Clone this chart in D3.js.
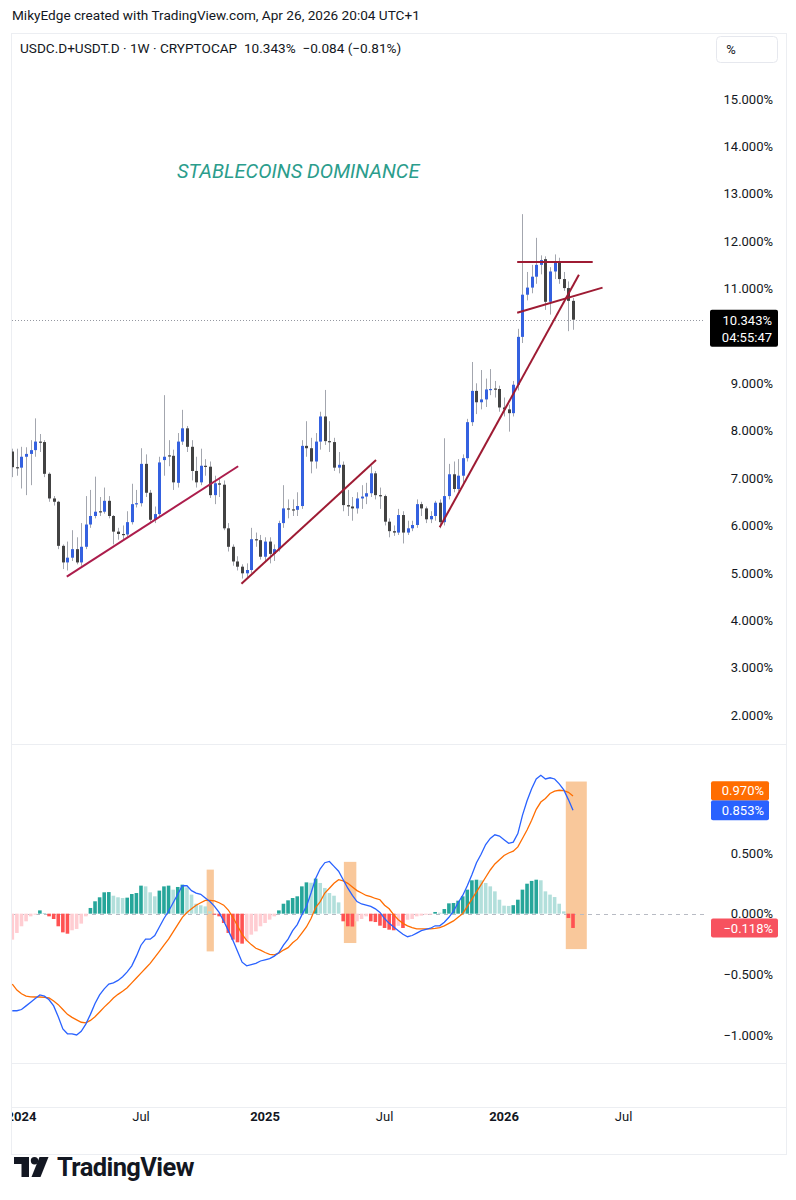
<!DOCTYPE html>
<html><head><meta charset="utf-8">
<script src="https://cdn.jsdelivr.net/npm/d3@7"></script>
<style>
body{margin:0;background:#fff;}
svg{display:block;font-family:Roboto,"Noto Sans",sans-serif;}
</style></head><body>
<svg id="chart" width="796" height="1200"></svg>
<script>
// ---------- DATA (weekly bars, first bar = week of 2023-12-18) ----------
const weekStart = "2023-12-18";
const opens = [7.56,7.23,7.22,7.45,7.51,7.59,7.77,7.76,7.09,6.57,6.50,5.57,5.22,5.32,5.50,5.22,5.55,6.02,6.20,6.30,
6.29,6.52,6.20,5.87,5.82,5.81,6.07,6.45,6.47,7.30,6.69,6.12,6.24,7.38,7.48,7.47,6.90,7.77,8.05,7.66,
7.15,6.91,7.26,7.24,6.64,6.89,6.86,5.94,5.55,5.24,5.13,4.99,5.06,5.71,5.69,5.34,5.66,5.40,5.50,6.05,
6.36,6.34,6.33,6.41,7.68,7.63,7.35,7.77,8.30,7.78,7.76,7.22,7.28,6.43,6.40,6.36,6.57,6.61,6.68,7.10,
6.64,6.62,6.08,5.88,5.85,6.22,5.85,5.94,6.01,6.45,6.36,6.13,6.20,6.48,6.07,6.62,7.08,6.77,7.05,7.42,
8.18,8.84,8.60,8.66,8.87,8.89,8.88,8.49,8.45,8.37,8.97,9.98,10.87,11.02,11.25,11.50,11.62,10.72,11.36,11.57,
11.20,11.01,10.74];
const highs = [7.62,7.62,7.66,7.65,7.80,8.26,7.93,7.80,7.12,6.62,6.52,5.60,5.66,5.90,5.75,6.05,6.62,6.75,7.03,6.60,
6.80,6.62,6.22,5.95,6.00,6.30,6.88,6.75,7.63,7.50,6.75,6.40,7.45,8.75,7.80,7.60,7.95,8.44,8.10,7.80,
7.45,7.62,7.40,7.35,7.05,7.00,6.95,6.05,5.60,5.35,5.18,5.20,5.95,5.85,5.80,5.75,5.75,5.60,6.10,6.85,
6.55,6.55,6.70,7.80,8.20,7.85,7.95,8.40,8.86,8.20,7.85,7.55,7.35,6.75,6.60,6.70,6.85,6.90,7.25,7.15,
6.80,6.65,6.15,6.00,6.35,6.30,6.10,6.10,6.55,6.50,6.40,6.30,6.52,6.55,7.84,7.30,7.35,7.40,7.50,8.25,
9.45,9.00,9.28,9.10,9.30,9.05,8.95,8.70,8.55,9.05,10.15,12.57,11.35,11.50,12.07,11.70,11.68,11.45,11.72,11.65,
11.35,11.15,10.80];
const lows = [7.02,7.05,6.78,6.64,6.85,7.45,7.55,7.02,6.50,6.42,5.50,5.08,5.05,5.25,5.18,5.15,5.50,5.95,6.15,6.20,
6.25,6.15,5.60,5.70,5.70,5.76,6.02,6.38,6.40,6.60,6.05,6.05,6.20,7.05,7.25,6.75,6.80,7.70,7.55,6.95,
6.80,6.85,7.05,6.58,6.45,6.60,5.90,5.45,5.15,5.05,4.88,4.90,5.00,5.55,5.28,5.25,5.20,5.25,5.45,5.95,
6.15,6.20,6.20,6.35,7.45,7.10,7.20,7.60,7.70,7.55,7.15,7.10,6.30,6.20,6.10,6.25,6.35,6.45,6.60,6.55,
6.35,6.00,5.75,5.78,5.80,5.62,5.80,5.88,5.95,6.20,6.05,6.05,6.10,5.94,6.00,6.55,6.70,6.72,6.90,7.35,
8.10,8.35,8.45,8.50,8.75,8.70,8.40,8.30,7.98,8.30,8.85,9.85,10.75,10.90,11.10,11.30,10.55,10.45,11.20,11.10,
10.95,10.10,10.13];
const closes = [7.23,7.22,7.45,7.51,7.59,7.77,7.76,7.09,6.57,6.50,5.57,5.22,5.32,5.50,5.22,5.55,6.02,6.20,6.29,6.29,
6.52,6.20,5.87,5.82,5.81,6.07,6.45,6.47,7.30,6.69,6.12,6.24,7.33,7.45,7.46,6.91,7.77,8.05,7.66,7.15,
6.91,7.26,7.24,6.64,6.89,6.86,5.94,5.55,5.24,5.13,4.99,5.06,5.71,5.69,5.34,5.66,5.40,5.50,6.05,6.36,
6.34,6.33,6.41,7.68,7.63,7.35,7.77,8.30,7.78,7.76,7.22,7.28,6.43,6.40,6.36,6.57,6.61,6.68,7.10,6.64,
6.62,6.08,5.88,5.85,6.22,5.85,5.94,6.01,6.45,6.36,6.13,6.20,6.48,6.07,6.62,7.08,6.77,7.05,7.42,8.18,
8.84,8.60,8.66,8.87,8.88,8.87,8.49,8.45,8.37,8.97,9.98,10.87,11.02,11.25,11.50,11.60,10.72,11.36,11.57,11.20,
11.01,10.74,10.343];
const macdLine = [-0.80,-0.80,-0.79,-0.76,-0.73,-0.70,-0.67,-0.68,-0.71,-0.76,-0.85,-0.95,-0.99,-0.99,-1.00,-0.97,-0.91,-0.83,-0.74,-0.67,
-0.62,-0.58,-0.57,-0.55,-0.52,-0.48,-0.43,-0.35,-0.26,-0.21,-0.21,-0.18,-0.11,-0.04,0.02,0.09,0.16,0.23,0.23,0.19,
0.17,0.16,0.13,0.10,0.06,0.01,-0.06,-0.14,-0.22,-0.31,-0.40,-0.43,-0.42,-0.41,-0.39,-0.38,-0.37,-0.35,-0.32,-0.26,
-0.21,-0.14,-0.09,-0.01,0.06,0.17,0.29,0.37,0.42,0.43,0.39,0.35,0.28,0.21,0.15,0.10,0.08,0.07,0.06,0.04,
0.01,-0.04,-0.08,-0.11,-0.14,-0.17,-0.19,-0.18,-0.16,-0.14,-0.13,-0.12,-0.10,-0.10,-0.07,-0.03,0.02,0.09,0.15,0.23,
0.32,0.42,0.49,0.57,0.62,0.65,0.64,0.61,0.58,0.59,0.66,0.81,0.93,1.03,1.11,1.14,1.11,1.12,1.11,1.07,
1.02,0.94,0.853];
const signalLine = [-0.58,-0.63,-0.66,-0.68,-0.685,-0.687,-0.687,-0.69,-0.695,-0.72,-0.75,-0.79,-0.83,-0.855,-0.875,-0.895,-0.90,-0.88,-0.85,-0.81,
-0.77,-0.735,-0.695,-0.665,-0.64,-0.61,-0.57,-0.53,-0.49,-0.45,-0.41,-0.36,-0.31,-0.26,-0.21,-0.15,-0.09,-0.03,0.01,0.04,
0.07,0.09,0.11,0.11,0.105,0.09,0.07,0.03,-0.03,-0.10,-0.17,-0.22,-0.255,-0.285,-0.30,-0.32,-0.335,-0.34,-0.325,-0.30,
-0.28,-0.24,-0.21,-0.16,-0.11,-0.04,0.05,0.10,0.17,0.21,0.25,0.28,0.27,0.25,0.22,0.19,0.17,0.15,0.14,0.125,
0.115,0.07,0.04,-0.01,-0.05,-0.08,-0.10,-0.115,-0.125,-0.126,-0.126,-0.125,-0.122,-0.115,-0.10,-0.08,-0.06,-0.03,0.00,0.06,
0.12,0.18,0.24,0.30,0.36,0.41,0.445,0.48,0.50,0.515,0.55,0.62,0.69,0.77,0.86,0.92,0.95,0.99,1.01,1.017,
1.014,1.00,0.970];
const histogram = [-0.214,-0.159,-0.104,-0.063,-0.022,-0.008,0.027,0.005,-0.022,-0.044,-0.104,-0.154,-0.165,-0.137,-0.126,-0.082,-0.022,0.047,0.102,0.135,
0.176,0.178,0.148,0.135,0.129,0.132,0.162,0.170,0.231,0.225,0.176,0.143,0.190,0.225,0.231,0.198,0.220,0.239,0.217,0.157,
0.082,0.069,0.060,0.020,-0.008,-0.022,-0.077,-0.159,-0.214,-0.236,-0.247,-0.228,-0.173,-0.146,-0.104,-0.077,-0.049,-0.022,0.027,0.082,
0.110,0.129,0.143,0.225,0.258,0.255,0.289,0.253,0.212,0.170,0.148,0.093,-0.063,-0.104,-0.106,-0.063,-0.044,-0.022,-0.063,-0.069,
-0.099,-0.118,-0.132,-0.137,-0.100,-0.118,-0.050,-0.044,-0.022,-0.016,-0.008,-0.005,0.014,0.008,0.038,0.085,0.088,0.107,0.143,0.198,
0.275,0.280,0.275,0.253,0.225,0.184,0.115,0.066,0.064,0.070,0.115,0.198,0.247,0.270,0.280,0.275,0.184,0.157,0.137,0.082,
0.019,-0.036,-0.118];
const priceTicks = [2,3,4,5,6,7,8,9,10,11,12,13,14,15];
const hiddenPriceTicks = [10]; // covered by last-price label
const macdTicks = [0.5, 0, -0.5, -1];
const timeTicks = [["2024-01-01","2024",true],["2024-07-01","Jul",false],["2025-01-06","2025",true],
                   ["2025-07-07","Jul",false],["2026-01-05","2026",true],["2026-07-06","Jul",false]];
const trendLines = [
  [["2024-03-10",4.92],["2024-11-26",7.25]],
  [["2024-12-01",4.77],["2025-06-24",7.38]],
  [["2025-09-29",5.96],["2026-04-29",11.29]],
  [["2026-01-25",11.56],["2026-05-20",11.56]],
  [["2026-01-25",10.49],["2026-06-04",11.02]]
];
const highlightBoxes = [
  [["2024-10-09",0.363],["2024-10-20",-0.311]],
  [["2025-05-06",0.427],["2025-05-25",-0.242]],
  [["2026-04-09",1.089],["2026-05-11",-0.292]]
];
const lastPrice = 10.343, lastMacd = 0.853, lastSignal = 0.970, lastHist = -0.118;

// ---------- SETUP ----------
const svg = d3.select("#chart");
const parse = d3.utcParse("%Y-%m-%d");
const t0 = parse(weekStart);
const dates = closes.map((_, i) => d3.utcWeek.offset(t0, i));
const x = d3.scaleUtc().domain([dates[0], dates[dates.length - 1]]).range([12.3, 573]);
const yP = d3.scaleLinear().domain([2, 15]).range([715, 99]);
const yM = d3.scaleLinear().domain([-1, 0.5]).range([1035, 853]);
const txt = "#131722";

// header
svg.append("text").attr("x", 12).attr("y", 20).attr("font-size", 13.6).attr("fill", txt)
  .text("MikyEdge created with TradingView.com, Apr 26, 2026 20:04 UTC+1");

// frame
const frame = svg.append("g").attr("fill", "none").attr("stroke", "#eceef2").attr("stroke-width", 1);
frame.append("rect").attr("x", 11.5).attr("y", 33.5).attr("width", 775).attr("height", 1121);
[744.5, 1063.5, 1107.5].forEach(yy => frame.append("line").attr("x1", 11.5).attr("x2", 786.5).attr("y1", yy).attr("y2", yy));

// legend
svg.append("text").attr("x", 20).attr("y", 53).attr("font-size", 13.6).attr("fill", txt)
  .attr("xml:space", "preserve")
  .text("USDC.D+USDT.D · 1W · CRYPTOCAP  10.343%  −0.084 (−0.81%)");
svg.append("rect").attr("x", 716.5).attr("y", 36.5).attr("width", 61).attr("height", 26).attr("rx", 4)
  .attr("fill", "#fff").attr("stroke", "#e6e8ee");
svg.append("text").attr("x", 731).attr("y", 54).attr("font-size", 13).attr("fill", txt).attr("text-anchor", "middle").text("%");

// annotation text
svg.append("text").attr("x", 177).attr("y", 178).attr("font-size", 20).attr("font-style", "italic")
  .attr("fill", "#2b9d8c").text("STABLECOINS DOMINANCE");

// clip
svg.append("clipPath").attr("id", "cp").append("rect").attr("x", 12).attr("y", 34).attr("width", 693).attr("height", 1029);
const plot = svg.append("g").attr("clip-path", "url(#cp)");

// last price dotted line
plot.append("line").attr("x1", 12).attr("x2", 710).attr("y1", Math.round(yP(lastPrice)) + 0.5).attr("y2", Math.round(yP(lastPrice)) + 0.5)
  .attr("stroke", "#9598a1").attr("stroke-width", 1).attr("stroke-dasharray", "1,2");

// candles
const bull = "#3461e0", bear = "#424242", wickC = "#a3a6ae";
const cg = plot.append("g");
closes.forEach((c, i) => {
  const cx = Math.round(x(dates[i]));
  cg.append("line").attr("x1", cx + 0.5).attr("x2", cx + 0.5).attr("y1", yP(highs[i])).attr("y2", yP(lows[i]))
    .attr("stroke", wickC).attr("stroke-width", 1);
});
closes.forEach((c, i) => {
  const cx = Math.round(x(dates[i]));
  const o = opens[i];
  const top = yP(Math.max(o, c)), bot = yP(Math.min(o, c));
  cg.append("rect").attr("x", cx - 1).attr("width", 3).attr("y", top).attr("height", Math.max(1.2, bot - top))
    .attr("fill", c >= o ? bull : bear);
});

// trend lines
const tl = d3.line().x(d => x(parse(d[0]))).y(d => yP(d[1]));
trendLines.forEach((seg, k) => {
  svg.append("path").attr("d", tl(seg)).attr("fill", "none")
    .attr("stroke", k === 0 ? "#ac1d4c" : "#9e1b33").attr("stroke-width", 2);
});

// MACD pane
const mg = plot.append("g");
highlightBoxes.forEach(b => {
  const x0 = x(parse(b[0][0])), x1 = x(parse(b[1][0]));
  mg.append("rect").attr("x", x0).attr("width", x1 - x0).attr("y", yM(b[0][1])).attr("height", yM(b[1][1]) - yM(b[0][1]))
    .attr("fill", "#f9c89b");
});
mg.append("line").attr("x1", 12).attr("x2", 705).attr("y1", Math.round(yM(0)) + 0.5).attr("y2", Math.round(yM(0)) + 0.5)
  .attr("stroke", "#b8bbc4").attr("stroke-dasharray", "4,4");
histogram.forEach((v, i) => {
  const prev = i > 0 ? histogram[i - 1] : (v < 0 ? v - 1 : v + 1);
  let col;
  if (v >= 0) col = v > prev ? "#26a69a" : "#b2dfdb";
  else col = v < prev ? "#ff5252" : "#ffcdd2";
  const cx = x(dates[i]);
  const y0 = yM(0), y1 = yM(v);
  mg.append("rect").attr("x", cx - 1.8).attr("width", 3.6).attr("y", Math.min(y0, y1)).attr("height", Math.max(1, Math.abs(y1 - y0)))
    .attr("fill", col);
});
const ml = d3.line().x((d, i) => x(dates[i])).y(d => yM(d)).curve(d3.curveLinear);
mg.append("path").attr("d", ml(signalLine)).attr("fill", "none").attr("stroke", "#ff6d00").attr("stroke-width", 1.3);
mg.append("path").attr("d", ml(macdLine)).attr("fill", "none").attr("stroke", "#2962ff").attr("stroke-width", 1.3);

// price axis
const pAxis = d3.axisRight(yP).tickValues(priceTicks.filter(t => !hiddenPriceTicks.includes(t)))
  .tickFormat(d => d3.format(".3f")(d) + "%").tickSize(0);
const pg = svg.append("g").attr("transform", "translate(773,0)").call(pAxis);
pg.select(".domain").remove();
pg.selectAll("text").attr("text-anchor", "end").attr("x", 0).attr("font-size", 13).attr("font-family", "Roboto").attr("fill", txt);

const fmtM = d => (d < 0 ? "−" : "") + Math.abs(d).toFixed(3) + "%";
const mAxis = d3.axisRight(yM).tickValues(macdTicks).tickFormat(fmtM).tickSize(0);
const mgA = svg.append("g").attr("transform", "translate(773,0)").call(mAxis);
mgA.select(".domain").remove();
mgA.selectAll("text").attr("text-anchor", "end").attr("x", 0).attr("font-size", 13).attr("font-family", "Roboto").attr("fill", txt);

// last price label
const ly = yP(lastPrice);
svg.append("rect").attr("x", 710).attr("y", ly - 10).attr("width", 68).attr("height", 37).attr("rx", 2).attr("fill", "#000");
svg.append("text").attr("x", 772).attr("y", ly + 5).attr("text-anchor", "end").attr("font-size", 13).attr("fill", "#fff").text(lastPrice.toFixed(3) + "%");
svg.append("text").attr("x", 772).attr("y", ly + 22).attr("text-anchor", "end").attr("font-size", 13).attr("fill", "#fff").text("04:55:47");

// macd labels
const by = yM(lastMacd);
svg.append("rect").attr("x", 711).attr("y", by - 10).attr("width", 58).attr("height", 20).attr("rx", 2).attr("fill", "#2962ff");
svg.append("text").attr("x", 764).attr("y", by + 4.5).attr("text-anchor", "end").attr("font-size", 13).attr("fill", "#fff").text(fmtM(lastMacd));
svg.append("rect").attr("x", 711).attr("y", by - 29).attr("width", 58).attr("height", 19).attr("rx", 2).attr("fill", "#ff6d00");
svg.append("text").attr("x", 764).attr("y", by - 15).attr("text-anchor", "end").attr("font-size", 13).attr("fill", "#fff").text(fmtM(lastSignal));
const hy = yM(lastHist);
svg.append("rect").attr("x", 711).attr("y", hy - 9.5).attr("width", 67).attr("height", 19).attr("rx", 2).attr("fill", "#f7525f");
svg.append("text").attr("x", 773).attr("y", hy + 5).attr("text-anchor", "end").attr("font-size", 13).attr("fill", "#fff").text(fmtM(lastHist));

// time axis
svg.append("clipPath").attr("id", "cpt").append("rect").attr("x", 12).attr("y", 1108).attr("width", 700).attr("height", 46);
const tg = svg.append("g").attr("clip-path", "url(#cpt)");
timeTicks.forEach(t => {
  tg.append("text").attr("x", x(parse(t[0]))).attr("y", 1121).attr("text-anchor", "middle")
    .attr("font-size", 13).attr("font-weight", t[2] ? 700 : 400).attr("fill", txt).text(t[1]);
});

// TradingView logo
const lg = svg.append("g").attr("fill", "#131722");
lg.append("path").attr("d", "M14,1157 H29 V1177 H21.5 V1164 H14 Z");
lg.append("circle").attr("cx", 34.5).attr("cy", 1160.7).attr("r", 3.7);
lg.append("path").attr("d", "M39.5,1157 H48.5 L40.5,1177 H31.5 Z");
svg.append("text").attr("x", 57).attr("y", 1176).attr("font-size", 25.5).attr("font-weight", 700)
  .attr("letter-spacing", -0.6).attr("fill", "#131722").text("TradingView");
</script>
</body></html>
